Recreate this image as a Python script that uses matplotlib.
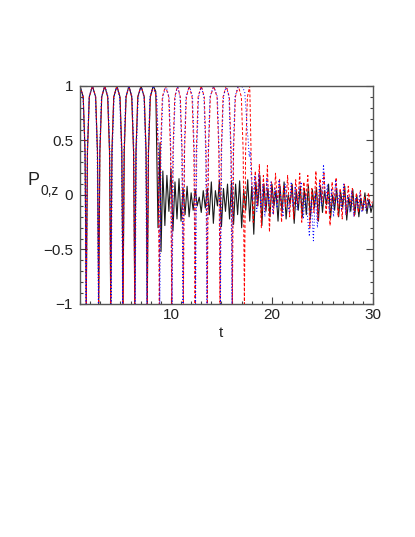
import numpy as np
import matplotlib
matplotlib.use('Agg')
import matplotlib.pyplot as plt
from matplotlib.ticker import MultipleLocator

# oscillating part (explicit vertices)
black_t = [1.00,
           1.32, 1.50, 1.62, 1.74, 1.92, 2.23,
           2.55, 2.73, 2.85, 2.97, 3.15, 3.45,
           3.74, 3.92, 4.04, 4.16, 4.34, 4.65,
           4.96, 5.14, 5.26, 5.38, 5.56, 5.84,
           6.12, 6.30, 6.42, 6.54, 6.72, 7.04,
           7.36, 7.54, 7.66, 7.78, 7.96, 8.25,
           8.50, 8.62, 8.72, 8.82, 8.92, 9.02]
black_p = [1.00,
           0.90, 0.40, -1.00, 0.40, 0.90, 1.00,
           0.90, 0.40, -1.00, 0.40, 0.90, 1.00,
           0.90, 0.40, -1.00, 0.40, 0.90, 1.00,
           0.90, 0.40, -1.00, 0.40, 0.90, 1.00,
           0.90, 0.40, -1.00, 0.40, 0.90, 1.00,
           0.90, 0.40, -1.00, 0.40, 0.90, 1.00,
           0.95, 0.30, -0.30, 0.05, 0.48, -0.52]

red_t = [1.00,
         1.32, 1.50, 1.62, 1.74, 1.92, 2.23,
         2.55, 2.73, 2.85, 2.97, 3.15, 3.45,
         3.74, 3.92, 4.04, 4.16, 4.34, 4.65,
         4.96, 5.14, 5.26, 5.38, 5.56, 5.84,
         6.12, 6.30, 6.42, 6.54, 6.72, 7.04,
         7.36, 7.54, 7.66, 7.78, 7.96, 8.25,
         8.55, 8.73, 8.85, 8.97, 9.15, 9.46,
         9.78, 9.96, 10.08, 10.20, 10.38, 10.65,
         10.93, 11.11, 11.23, 11.35, 11.53, 11.81,
         12.09, 12.27, 12.39, 12.51, 12.69, 13.00,
         13.30, 13.48, 13.60, 13.72, 13.90, 14.23,
         14.56, 14.74, 14.86, 14.98, 15.16, 15.47,
         15.78, 15.96, 16.08, 16.20, 16.38, 16.67,
         16.97, 17.15, 17.27, 17.39, 17.57, 17.80]
red_p = [1.00,
         0.90, 0.40, -1.00, 0.40, 0.90, 1.00,
         0.90, 0.40, -1.00, 0.40, 0.90, 1.00,
         0.90, 0.40, -1.00, 0.40, 0.90, 1.00,
         0.90, 0.40, -1.00, 0.40, 0.90, 1.00,
         0.90, 0.40, -1.00, 0.40, 0.90, 1.00,
         0.90, 0.40, -1.00, 0.40, 0.90, 1.00,
         0.90, 0.40, -1.00, 0.40, 0.90, 1.00,
         0.90, 0.40, -1.00, 0.40, 0.90, 1.00,
         0.90, 0.40, -1.00, 0.40, 0.90, 1.00,
         0.90, 0.40, -1.00, 0.40, 0.90, 1.00,
         0.90, 0.40, -1.00, 0.40, 0.90, 1.00,
         0.90, 0.40, -1.00, 0.40, 0.90, 1.00,
         0.90, 0.40, -1.00, 0.40, 0.90, 1.00,
         0.90, 0.40, -1.00, 0.40, 0.90, 1.00]

blue_t = [1.00,
          1.30, 1.48, 1.60, 1.72, 1.90, 2.21,
          2.52, 2.70, 2.82, 2.94, 3.12, 3.45,
          3.78, 3.96, 4.08, 4.20, 4.38, 4.65,
          4.92, 5.10, 5.22, 5.34, 5.52, 5.84,
          6.16, 6.34, 6.46, 6.58, 6.76, 7.04,
          7.32, 7.50, 7.62, 7.74, 7.92, 8.26,
          8.60, 8.78, 8.90, 9.02, 9.20, 9.51,
          9.82, 10.00, 10.12, 10.24, 10.42, 10.66,
          10.89, 11.07, 11.19, 11.31, 11.49, 11.82,
          12.14, 12.32, 12.44, 12.56, 12.74, 13.00,
          13.26, 13.44, 13.56, 13.68, 13.86, 14.23,
          14.60, 14.78, 14.90, 15.02, 15.20, 15.47,
          15.74, 15.92, 16.04, 16.16, 16.34, 16.67,
          17.00, 17.30, 17.45, 17.55, 17.65, 17.75, 17.85, 17.95]
blue_p = [1.00,
          0.90, 0.40, -1.00, 0.40, 0.90, 1.00,
          0.90, 0.40, -1.00, 0.40, 0.90, 1.00,
          0.90, 0.40, -1.00, 0.40, 0.90, 1.00,
          0.90, 0.40, -1.00, 0.40, 0.90, 1.00,
          0.90, 0.40, -1.00, 0.40, 0.90, 1.00,
          0.90, 0.40, -1.00, 0.40, 0.90, 1.00,
          0.90, 0.40, -1.00, 0.40, 0.90, 1.00,
          0.90, 0.40, -1.00, 0.40, 0.90, 1.00,
          0.90, 0.40, -1.00, 0.40, 0.90, 1.00,
          0.90, 0.40, -1.00, 0.40, 0.90, 1.00,
          0.90, 0.40, -1.00, 0.40, 0.90, 1.00,
          0.90, 0.40, -1.00, 0.40, 0.90, 1.00,
          0.90, 0.40, -1.00, 0.40, 0.90, 1.00,
          1.00, 0.95, 0.75, 0.60, 0.50, 0.35, 0.40, 0.15]

# noisy part, sampled every 0.2 in t
dt = 0.2
black_noise_t0 = 9.2
black_noise = [0.22, -0.28, 0.18, -0.15, 0.24, -0.33, 0.12, -0.22, 0.15,
               -0.24, 0.06, -0.18, 0.08, -0.20, 0.02,
               -0.14, 0.05, -0.10, -0.02, -0.16, 0.04, -0.12, 0.06, -0.18,
               0.12, -0.26, 0.04, -0.10, 0.13, -0.29, 0.06, -0.15, 0.10, -0.22, 0.12, -0.27,
               0.10, -0.18, 0.13, -0.30, 0.05, -0.14, 0.14, -0.24, 0.08, -0.36, 0.12, -0.10,
               0.18,
               -0.28, 0.10, -0.15, 0.06, -0.20, 0.10, -0.10, 0.04, -0.24, 0.08, -0.16, 0.12,
               -0.22, 0.00, -0.08, 0.10, -0.26, 0.04, -0.14, 0.08, -0.20, 0.06, -0.18, 0.09,
               -0.22, 0.05,
               -0.12, 0.07, -0.24, 0.08, -0.16, 0.04, -0.09, 0.10, -0.21, 0.00, -0.14, 0.06,
               -0.20, 0.03, -0.11, 0.08, -0.23, -0.02, -0.15, 0.05, -0.18, 0.00, -0.20, -0.03,
               -0.14, 0.02, -0.17, -0.04, -0.16, -0.08]

red_noise_t0 = 17.95
red_noise = [0.30, -0.25, 0.22, -0.10, 0.28, -0.30, 0.18, -0.15, 0.27, -0.34, 0.12,
             -0.18, 0.20, -0.08, 0.15, -0.25, 0.08, -0.12, 0.18, -0.20, 0.10,
             -0.22, 0.14, -0.08, 0.20, -0.25, 0.12, -0.04, 0.18, -0.30, 0.06, -0.16, 0.22,
             -0.24, 0.15, -0.06, 0.20, -0.18, 0.04, -0.28, 0.12, -0.08, 0.16, -0.20, 0.06,
             -0.22, 0.10, -0.18, 0.08, -0.10, 0.06, -0.20, 0.02, -0.16, 0.04, -0.14, -0.02,
             -0.12, 0.02, -0.10, -0.06]

blue_noise_t0 = 18.1
blue_noise = [-0.05, 0.18, -0.15, 0.20, -0.12, 0.10, -0.20, 0.15, -0.08, 0.12,
              -0.18, 0.06, -0.12, 0.14, -0.04, -0.20, 0.10, -0.06, -0.15, 0.12,
              -0.10, 0.08, -0.14, 0.05, 0.12, -0.22, 0.00, -0.18, -0.38, -0.05,
              -0.42, 0.02, -0.30, 0.12, -0.10, 0.28, -0.04, 0.10, -0.16, 0.06,
              -0.20, 0.14, -0.08, 0.02, -0.14, 0.10, -0.18, 0.00, -0.16, 0.04,
              -0.20, -0.02, -0.12, 0.02, -0.16, -0.06, -0.14, -0.04, -0.12, -0.08]

xtick_vals = [10, 20, 30]
ytick_vals = [-1, -0.5, 0, 0.5, 1]
ytick_labels = ['\u22121', '\u22120.5', '0', '0.5', '1']

plt.rcParams['font.family'] = ['Liberation Sans', 'DejaVu Sans']

fig = plt.figure(figsize=(4.15, 5.37), dpi=100)
ax = fig.add_axes([80 / 415, 1 - 304 / 537, 293 / 415, 218 / 537])


def full(t, p, t0, noise):
    tn = t0 + dt * np.arange(len(noise))
    return np.concatenate([t, tn]), np.concatenate([p, noise])


bt, bp = full(black_t, black_p, black_noise_t0, black_noise)
rt, rp = full(red_t, red_p, red_noise_t0, red_noise)
ut, up = full(blue_t, blue_p, blue_noise_t0, blue_noise)

ax.plot(bt, bp, color='#1a1a1a', lw=0.8)
ax.plot(rt, rp, color='red', lw=0.7, linestyle=(0, (3, 2)))
ax.plot(ut, up, color='blue', lw=0.7, linestyle=(0, (1, 2.2)))

ax.set_xlim(1, 30)
ax.set_ylim(-1, 1)
ax.set_xticks(xtick_vals)
ax.set_yticks(ytick_vals, labels=ytick_labels)
ax.xaxis.set_minor_locator(MultipleLocator(1))
ax.yaxis.set_minor_locator(MultipleLocator(0.1))
ax.tick_params(which='both', direction='in', right=True, top=False,
               colors='#444444', labelcolor='#222222', labelsize=11, width=0.8)
ax.tick_params(which='major', length=5)
ax.tick_params(which='minor', length=2.5)
ax.tick_params(axis='y', pad=5)
ax.tick_params(axis='x', pad=3)
for s in ax.spines.values():
    s.set_color('#555555')
    s.set_linewidth(1.0)

ax.set_xlabel('t', fontsize=11, color='#222222')
ax.xaxis.set_label_coords(0.481, -0.1)
fig.text(27 / 415, 1 - 185 / 537, 'P', fontsize=13, color='#222222', ha='left', va='baseline')
fig.text(40 / 415, 1 - 195 / 537, '0,z', fontsize=10, color='#222222', ha='left', va='baseline')

fig.savefig('out.png', dpi=100)
